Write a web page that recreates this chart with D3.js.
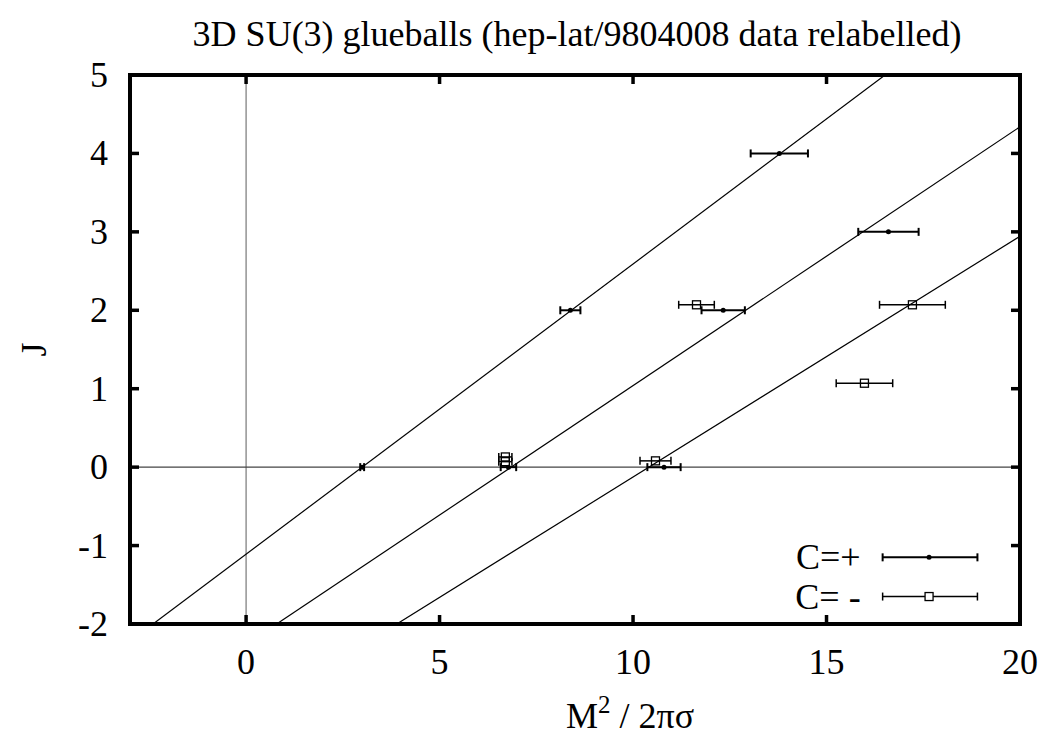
<!DOCTYPE html>
<html>
<head>
<meta charset="utf-8">
<script src="https://cdn.jsdelivr.net/npm/d3@7"></script>
<style>
body { margin: 0; background: #fff; }
svg text { font-family: "Liberation Serif", "Times New Roman", Times, "DejaVu Serif", serif; fill: #000; }
</style>
</head>
<body>
<div id="chart"></div>
<script>
// C=+ states : M^2/2pi sigma, error, J
const plusX = [3.0, 6.78, 10.8, 8.38, 12.33, 16.6, 13.78];
const plusErr = [0.05, 0.2, 0.43, 0.26, 0.56, 0.78, 0.74];
const plusJ = [0, 0, 0, 2, 2, 3, 4];

// C=- states (drawn slightly above their J)
const minusX = [6.7, 6.7, 10.58, 11.64, 15.98, 17.22];
const minusErr = [0.17, 0.17, 0.4, 0.46, 0.73, 0.85];
const minusJ = [0.07, 0.13, 0.08, 2.07, 1.07, 2.07];

// trajectories J = slope * (x - x0)
const trajSlope = [0.37, 0.33, 0.307];
const trajX0 = [3.0, 6.85, 10.41];

const xTicks = [0, 5, 10, 15, 20];
const yTicks = [-2, -1, 0, 1, 2, 3, 4, 5];

const W = 1047, H = 738;
const margin = {left: 130, right: 27, top: 75, bottom: 114};
const width = W - margin.left - margin.right;
const height = H - margin.top - margin.bottom;
const FONT = '"Liberation Serif", "Times New Roman", Times, serif';

const svg = d3.select('#chart').append('svg')
  .attr('width', W)
  .attr('height', H)
  .attr('font-family', FONT);

const x = d3.scaleLinear().domain([-3, 20]).range([0, width]);
const y = d3.scaleLinear().domain([-2, 5]).range([height, 0]);

const chart = svg.append('g')
  .attr('transform', `translate(${margin.left}, ${margin.top})`);

svg.append('defs').append('clipPath').attr('id', 'clip')
  .append('rect').attr('width', width).attr('height', height);

// zero axes
chart.append('line')
  .attr('x1', x(0)).attr('x2', x(0)).attr('y1', 0).attr('y2', height)
  .attr('stroke', '#777').attr('stroke-width', 1.2);
chart.append('line')
  .attr('x1', 0).attr('x2', width).attr('y1', y(0)).attr('y2', y(0))
  .attr('stroke', '#444').attr('stroke-width', 1.2);

// trajectories
const traj = chart.append('g').attr('clip-path', 'url(#clip)');
trajSlope.forEach((s, i) => {
  const x1 = -3, x2 = 20;
  traj.append('line')
    .attr('x1', x(x1)).attr('y1', y(s * (x1 - trajX0[i])))
    .attr('x2', x(x2)).attr('y2', y(s * (x2 - trajX0[i])))
    .attr('stroke', '#000').attr('stroke-width', 1.2);
});

// error bars
function errbar(g, cx, cy, e, sw) {
  g.append('line')
    .attr('x1', x(cx - e)).attr('x2', x(cx + e)).attr('y1', y(cy)).attr('y2', y(cy))
    .attr('stroke', '#000').attr('stroke-width', sw);
  [cx - e, cx + e].forEach(v => {
    g.append('line')
      .attr('x1', x(v)).attr('x2', x(v)).attr('y1', y(cy) - 4).attr('y2', y(cy) + 4)
      .attr('stroke', '#000').attr('stroke-width', sw);
  });
}

const pts = chart.append('g');
plusX.forEach((v, i) => {
  errbar(pts, v, plusJ[i], plusErr[i], 2);
  pts.append('circle').attr('cx', x(v)).attr('cy', y(plusJ[i])).attr('r', 2.5).attr('fill', '#000');
});
minusX.forEach((v, i) => {
  errbar(pts, v, minusJ[i], minusErr[i], 1.5);
  pts.append('rect')
    .attr('x', x(v) - 4).attr('y', y(minusJ[i]) - 4)
    .attr('width', 8).attr('height', 8)
    .attr('fill', 'none').attr('stroke', '#000').attr('stroke-width', 1.3);
});

// ticks on all four sides
const tickG = chart.append('g');
xTicks.forEach(t => {
  tickG.append('line').attr('x1', x(t)).attr('x2', x(t)).attr('y1', height).attr('y2', height - 9)
    .attr('stroke', '#000').attr('stroke-width', 3.5);
  tickG.append('line').attr('x1', x(t)).attr('x2', x(t)).attr('y1', 0).attr('y2', 9)
    .attr('stroke', '#000').attr('stroke-width', 3.5);
  chart.append('text')
    .attr('x', x(t)).attr('y', height + 50)
    .attr('text-anchor', 'middle').attr('font-size', 36)
    .text(t);
});
yTicks.forEach(t => {
  tickG.append('line').attr('x1', 0).attr('x2', 9).attr('y1', y(t)).attr('y2', y(t))
    .attr('stroke', '#000').attr('stroke-width', 3.5);
  tickG.append('line').attr('x1', width).attr('x2', width - 9).attr('y1', y(t)).attr('y2', y(t))
    .attr('stroke', '#000').attr('stroke-width', 3.5);
  chart.append('text')
    .attr('x', -22).attr('y', y(t) + 12)
    .attr('text-anchor', 'end').attr('font-size', 36)
    .text(t);
});

// frame
chart.append('rect')
  .attr('width', width).attr('height', height)
  .attr('fill', 'none').attr('stroke', '#000').attr('stroke-width', 4);

// legend
const leg = chart.append('g');
const legX1 = x(16.45), legX2 = x(18.9), legMid = x(17.65);
[{label: 'C=+', jy: -1.15, plus: true}, {label: 'C= -', jy: -1.65, plus: false}].forEach(d => {
  leg.append('text')
    .attr('x', legX1 - 22).attr('y', y(d.jy) + 12)
    .attr('text-anchor', 'end').attr('font-size', 36)
    .text(d.label);
  const sw = d.plus ? 2 : 1.5;
  leg.append('line').attr('x1', legX1).attr('x2', legX2).attr('y1', y(d.jy)).attr('y2', y(d.jy))
    .attr('stroke', '#000').attr('stroke-width', sw);
  [legX1, legX2].forEach(v => {
    leg.append('line').attr('x1', v).attr('x2', v).attr('y1', y(d.jy) - 4).attr('y2', y(d.jy) + 4)
      .attr('stroke', '#000').attr('stroke-width', sw);
  });
  if (d.plus) {
    leg.append('circle').attr('cx', legMid).attr('cy', y(d.jy)).attr('r', 2.5).attr('fill', '#000');
  } else {
    leg.append('rect').attr('x', legMid - 4).attr('y', y(d.jy) - 4).attr('width', 8).attr('height', 8)
      .attr('fill', '#fff').attr('stroke', '#000').attr('stroke-width', 1.3);
  }
});

// titles
svg.append('text')
  .attr('x', 577).attr('y', 46)
  .attr('text-anchor', 'middle').attr('font-size', 36)
  .text('3D SU(3) glueballs (hep-lat/9804008 data relabelled)');

const xl = svg.append('text')
  .attr('x', 630).attr('y', 728)
  .attr('text-anchor', 'middle').attr('font-size', 36);
xl.append('tspan').text('M');
xl.append('tspan').attr('font-size', 25).attr('dy', -15).text('2');
xl.append('tspan').attr('dy', 15).text(' / 2πσ');

svg.append('text')
  .attr('transform', `translate(46, ${margin.top + height / 2}) rotate(-90)`)
  .attr('text-anchor', 'middle').attr('font-size', 36)
  .text('J');
</script>
</body>
</html>
